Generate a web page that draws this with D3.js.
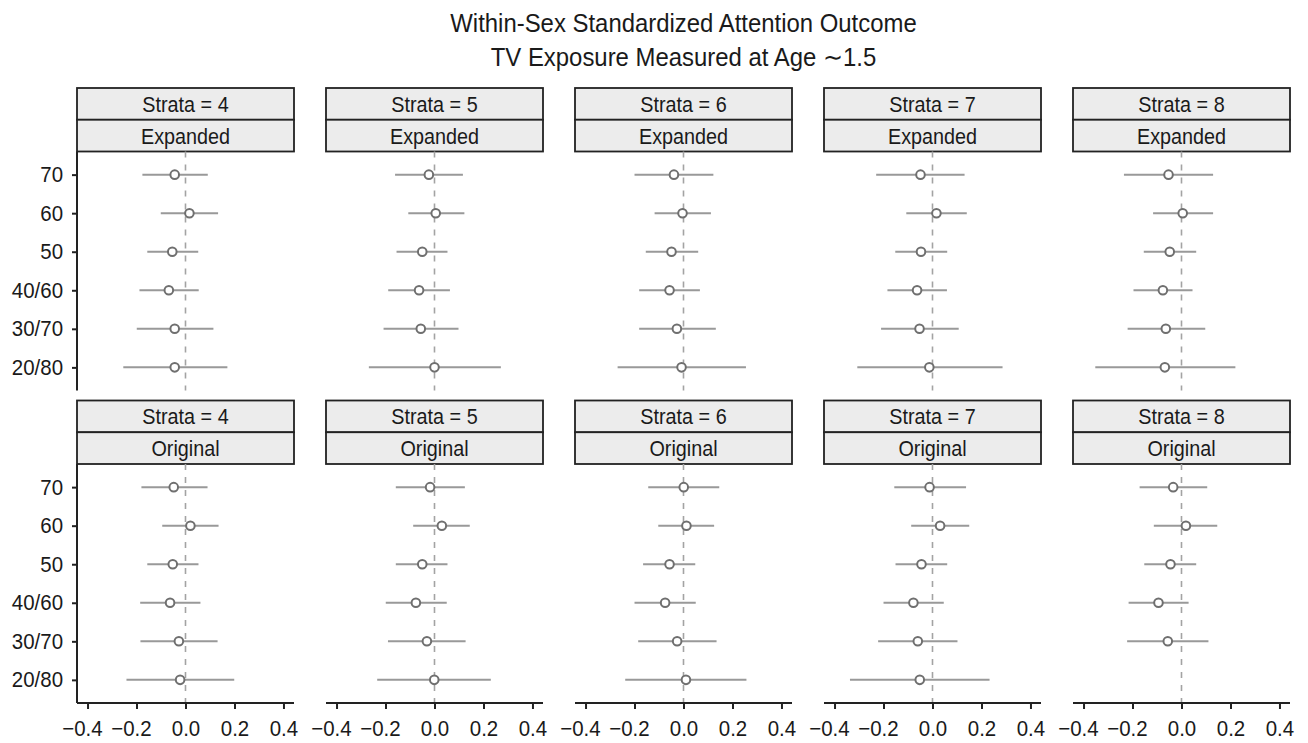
<!DOCTYPE html>
<html>
<head>
<meta charset="utf-8">
<script src="https://cdn.jsdelivr.net/npm/d3@7"></script>
<style>
    body { margin: 0; background: #fff; }
    svg { display: block; font-family: 'Liberation Sans', Arial, sans-serif; }
</style>
</head>
<body>
<svg id="chart" width="1308" height="743"></svg>
<script>

var categories = ['70', '60', '50', '40/60', '30/70', '20/80'];
var strata = [4, 5, 6, 7, 8];
var versions = ['Expanded', 'Original'];
var xTicks = [-0.4, -0.2, 0, 0.2, 0.4];

// one row per strata (4..8), one value per category
var expandedEst = [
    [-0.044, 0.016, -0.054, -0.068, -0.044, -0.044],
    [-0.023, 0.005, -0.050, -0.063, -0.056, 0.000],
    [-0.039, -0.004, -0.049, -0.057, -0.027, -0.008],
    [-0.049, 0.016, -0.047, -0.063, -0.053, -0.013],
    [-0.053, 0.005, -0.048, -0.076, -0.064, -0.068]
];
var expandedLo = [
    [-0.176, -0.101, -0.156, -0.188, -0.199, -0.254],
    [-0.161, -0.107, -0.155, -0.189, -0.208, -0.268],
    [-0.200, -0.118, -0.154, -0.181, -0.181, -0.269],
    [-0.230, -0.107, -0.152, -0.184, -0.210, -0.307],
    [-0.235, -0.116, -0.154, -0.196, -0.220, -0.352]
];
var expandedHi = [
    [0.091, 0.133, 0.052, 0.054, 0.114, 0.171],
    [0.116, 0.122, 0.053, 0.063, 0.098, 0.271],
    [0.122, 0.112, 0.060, 0.067, 0.132, 0.255],
    [0.131, 0.140, 0.060, 0.059, 0.107, 0.286],
    [0.129, 0.129, 0.060, 0.045, 0.097, 0.220]
];

var originalEst = [
    [-0.048, 0.020, -0.052, -0.063, -0.027, -0.022],
    [-0.018, 0.030, -0.050, -0.076, -0.031, -0.001],
    [0.001, 0.012, -0.057, -0.075, -0.026, 0.010],
    [-0.012, 0.031, -0.045, -0.078, -0.060, -0.052],
    [-0.034, 0.018, -0.045, -0.094, -0.056, null]
];
var originalLo = [
    [-0.180, -0.095, -0.156, -0.185, -0.184, -0.241],
    [-0.158, -0.087, -0.158, -0.199, -0.190, -0.234],
    [-0.144, -0.103, -0.165, -0.200, -0.185, -0.238],
    [-0.156, -0.087, -0.151, -0.200, -0.222, -0.337],
    [-0.171, -0.113, -0.152, -0.216, -0.222, null]
];
var originalHi = [
    [0.090, 0.135, 0.053, 0.061, 0.131, 0.199],
    [0.124, 0.144, 0.053, 0.050, 0.127, 0.230],
    [0.146, 0.125, 0.048, 0.050, 0.135, 0.257],
    [0.137, 0.150, 0.060, 0.046, 0.102, 0.233],
    [0.105, 0.146, 0.060, 0.029, 0.110, null]
];

var estimates = { Expanded: expandedEst, Original: originalEst };
var lowers = { Expanded: expandedLo, Original: originalLo };
var uppers = { Expanded: expandedHi, Original: originalHi };

var svg = d3.select('#chart');

var panelLeft = 77,
    panelWidth = 217,
    panelStep = 249,
    stripHeight = 31.75,
    rowTops = [88, 400.5],
    panelHeight = 239,
    textColor = '#1a1a1a',
    lineColor = '#222',
    barColor = '#999',
    pointColor = '#6f6f6f';

var x = d3.scaleLinear()
    .domain([-0.443, 0.443])
    .range([0, panelWidth]);

var y = d3.scalePoint()
    .domain(categories)
    .range([0, panelHeight])
    .padding(0.6);

// condensed look: narrow the glyphs a little
function squeezed(sel, px, py, s) {
    return sel.attr('transform', 'translate(' + px + ',' + py + ') scale(' + s + ',1)');
}

// title
squeezed(svg.append('text'), 683.5, 32, 0.92)
    .attr('text-anchor', 'middle')
    .attr('font-size', 26)
    .attr('fill', textColor)
    .text('Within-Sex Standardized Attention Outcome');

squeezed(svg.append('text'), 683.5, 66, 0.92)
    .attr('text-anchor', 'middle')
    .attr('font-size', 26)
    .attr('fill', textColor)
    .text('TV Exposure Measured at Age \u223C1.5');

versions.forEach(function(version, r) {

    strata.forEach(function(s, c) {

        var left = panelLeft + c * panelStep,
            top = rowTops[r],
            plotTop = top + 2 * stripHeight;

        var g = svg.append('g')
            .attr('transform', 'translate(' + left + ',' + top + ')');

        // strips
        [('Strata = ' + s), version].forEach(function(label, k) {
            g.append('rect')
                .attr('x', 0)
                .attr('y', k * stripHeight)
                .attr('width', panelWidth)
                .attr('height', stripHeight)
                .attr('fill', '#ececec')
                .attr('stroke', lineColor)
                .attr('stroke-width', 1.8);

            squeezed(g.append('text'), panelWidth / 2, k * stripHeight + stripHeight / 2 + 8, 0.9)
                .attr('text-anchor', 'middle')
                .attr('font-size', 22)
                .attr('fill', textColor)
                .text(label);
        });

        var plot = svg.append('g')
            .attr('transform', 'translate(' + left + ',' + plotTop + ')');

        // zero reference line
        plot.append('line')
            .attr('x1', x(0))
            .attr('x2', x(0))
            .attr('y1', 0)
            .attr('y2', panelHeight)
            .attr('stroke', '#a3a3a3')
            .attr('stroke-width', 1.6)
            .attr('stroke-dasharray', '6,7');

        var rows = categories.map(function(cat, i) {
            return {
                cat: cat,
                est: estimates[version][c][i],
                lo: lowers[version][c][i],
                hi: uppers[version][c][i]
            };
        }).filter(function(d) { return d.est !== null; });

        plot.selectAll('line.bar')
            .data(rows)
            .enter()
            .append('line')
            .attr('class', 'bar')
            .attr('x1', function(d) { return x(d.lo); })
            .attr('x2', function(d) { return x(d.hi); })
            .attr('y1', function(d) { return y(d.cat); })
            .attr('y2', function(d) { return y(d.cat); })
            .attr('stroke', barColor)
            .attr('stroke-width', 2);

        plot.selectAll('circle')
            .data(rows)
            .enter()
            .append('circle')
            .attr('cx', function(d) { return x(d.est); })
            .attr('cy', function(d) { return y(d.cat); })
            .attr('r', 4.3)
            .attr('fill', '#fff')
            .attr('stroke', pointColor)
            .attr('stroke-width', 2);

        if (c === 0) {
            var yAxis = plot.append('g')
                .call(d3.axisLeft(y).tickSize(5).tickPadding(10));
            yAxis.select('.domain')
                .attr('d', 'M0,0V' + panelHeight)
                .attr('stroke', lineColor)
                .attr('stroke-width', 2);
            yAxis.selectAll('.tick line')
                .attr('stroke', lineColor)
                .attr('stroke-width', 2);
            yAxis.selectAll('.tick text')
                .attr('font-family', null)
                .attr('font-size', 22)
                .attr('fill', textColor)
                .attr('transform', 'scale(0.93,1)');
        }

        if (r === 1) {
            var xAxis = plot.append('g')
                .attr('transform', 'translate(0,' + panelHeight + ')')
                .call(d3.axisBottom(x)
                    .tickValues(xTicks)
                    .tickSize(6)
                    .tickPadding(11)
                    .tickFormat(function(v) {
                        return d3.format('.1f')(v).replace('-', '\u2212');
                    }));
            xAxis.select('.domain')
                .attr('d', 'M0,0H' + panelWidth)
                .attr('stroke', lineColor)
                .attr('stroke-width', 2);
            xAxis.selectAll('.tick line')
                .attr('stroke', lineColor)
                .attr('stroke-width', 2);
            xAxis.selectAll('.tick text')
                .attr('font-family', null)
                .attr('font-size', 22)
                .attr('fill', textColor)
                .attr('transform', 'scale(0.93,1)')
                .attr('dx', function(v) { return v < 0 ? -6 : 0; });
        }
    });
});

</script>
</body>
</html>
